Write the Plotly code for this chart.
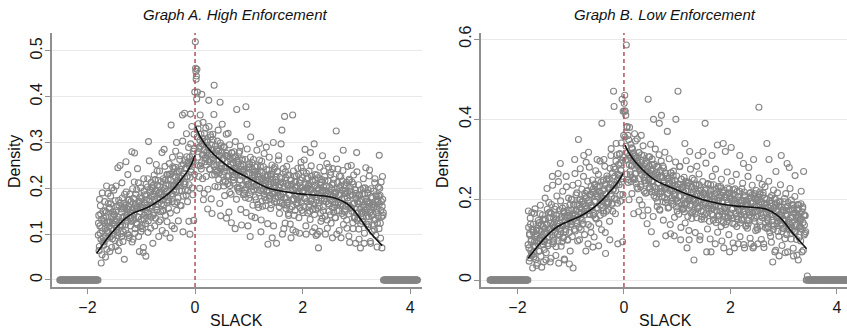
import numpy as np
import plotly.graph_objects as go

# ---------------- data (density per bin, in thousandths) ----------------
BIN = 0.01
# Graph A, bins centred on odd half-hundredths
A_LEFT_START = -1.795
A_LEFT_Y = [
    124, 64, 176, 102, 144, 37, 114, 190, 84, 92,
    76, 129, 151, 50, 138, 205, 108, 91, 167, 125,
    155, 62, 127, 166, 112, 201, 90, 138, 99, 144,
    121, 173, 73, 151, 132, 104, 245, 64, 163, 119,
    250, 120, 155, 95, 179, 136, 105, 167, 45, 159,
    120, 258, 136, 156, 101, 174, 161, 92, 187, 148,
    135, 128, 280, 153, 89, 178, 143, 277, 112, 162,
    155, 197, 121, 138, 212, 168, 62, 181, 159, 106,
    164, 119, 158, 60, 221, 132, 186, 147, 52, 175,
    159, 203, 104, 302, 144, 172, 191, 113, 213, 161,
    199, 80, 207, 145, 176, 219, 135, 195, 160, 238,
    178, 217, 95, 191, 204, 131, 186, 166, 278, 150,
    202, 152, 285, 183, 218, 102, 193, 230, 168, 175,
    156, 209, 231, 92, 218, 338, 188, 171, 247, 205,
    235, 112, 207, 246, 192, 300, 170, 218, 179, 224,
    211, 263, 163, 241, 222, 194, 360, 105, 253, 209,
    364, 210, 245, 185, 269, 226, 195, 257, 128, 249,
    100, 362, 236, 256, 201, 274, 261, 130, 287, 410,
]
A_LEFT_START2 = -1.80
A_LEFT_Y2 = [
    98, 141, 73, 118, 162, 89, 132, 55, 107, 150,
    135, 83, 171, 112, 96, 148, 67, 126, 189, 104,
    117, 158, 94, 183, 138, 71, 124, 149, 108, 196,
    142, 86, 129, 205, 113, 160, 97, 137, 174, 81,
    127, 168, 101, 148, 212, 119, 84, 156, 139, 187,
    163, 109, 192, 141, 128, 230, 154, 97, 176, 135,
    118, 171, 146, 83, 199, 157, 132, 214, 102, 166,
    187, 124, 159, 243, 137, 95, 172, 149, 116, 201,
    133, 178, 112, 155, 71, 194, 141, 168, 123, 209,
    186, 148, 221, 129, 175, 260, 158, 196, 137, 182,
    162, 203, 141, 187, 229, 118, 194, 171, 252, 153,
    207, 165, 189, 127, 238, 176, 149, 215, 192, 108,
    174, 221, 163, 199, 248, 141, 206, 182, 127, 230,
    219, 172, 254, 193, 146, 231, 205, 118, 268, 187,
    196, 243, 167, 225, 281, 204, 152, 236, 213, 129,
    238, 195, 271, 214, 162, 249, 226, 303, 183, 232,
    214, 262, 197, 243, 319, 226, 171, 255, 289, 208,
    268, 224, 297, 241, 335, 259, 186, 281, 318, 230,
]
A_RIGHT_START = 0.005
A_RIGHT_Y = [
    520, 455, 445, 460, 410, 330, 250, 290, 200, 360,
    292, 242, 405, 273, 308, 175, 283, 320, 258, 265,
    226, 279, 301, 155, 288, 392, 258, 241, 317, 275,
    295, 145, 267, 306, 252, 425, 230, 278, 239, 284,
    251, 303, 203, 281, 262, 234, 388, 140, 293, 249,
    340, 230, 265, 205, 289, 246, 215, 277, 135, 269,
    210, 320, 226, 246, 191, 264, 251, 125, 277, 238,
    225, 218, 280, 243, 112, 268, 233, 372, 202, 252,
    235, 277, 201, 218, 292, 248, 120, 261, 239, 186,
    234, 189, 228, 180, 378, 202, 340, 217, 118, 245,
    209, 253, 95, 312, 194, 222, 241, 163, 263, 211,
    229, 136, 237, 175, 206, 249, 165, 225, 190, 298,
    208, 247, 105, 221, 234, 161, 216, 196, 276, 180,
    212, 162, 290, 193, 228, 78, 203, 240, 178, 185,
    156, 209, 231, 92, 218, 300, 188, 171, 247, 205,
    225, 80, 197, 236, 182, 271, 160, 208, 169, 214,
    181, 327, 100, 211, 192, 164, 357, 124, 223, 179,
    248, 170, 205, 145, 229, 186, 155, 217, 92, 209,
    160, 360, 176, 196, 141, 214, 201, 105, 227, 188,
    175, 168, 230, 193, 102, 218, 183, 245, 152, 202,
    195, 237, 161, 178, 285, 208, 100, 221, 199, 146,
    204, 159, 198, 150, 278, 172, 226, 187, 105, 215,
    169, 297, 114, 230, 154, 182, 201, 100, 223, 70,
    199, 106, 207, 145, 176, 219, 135, 195, 160, 238,
    178, 217, 100, 191, 204, 131, 186, 166, 246, 150,
    192, 142, 235, 173, 208, 92, 183, 220, 158, 165,
    136, 189, 325, 100, 198, 242, 168, 151, 227, 185,
    205, 92, 177, 216, 162, 283, 140, 188, 149, 194,
    161, 213, 113, 191, 172, 144, 220, 82, 203, 159,
    250, 150, 185, 125, 209, 166, 135, 197, 80, 189,
    278, 130, 146, 166, 111, 184, 171, 70, 197, 158,
    145, 138, 200, 163, 80, 188, 153, 245, 122, 172,
    155, 197, 121, 138, 240, 168, 80, 181, 159, 106,
    164, 119, 158, 110, 221, 132, 186, 147, 72, 175,
    139, 183, 272, 200, 124, 152, 171, 70, 226, 141,
]
A_RIGHT_START2 = 0.01
A_RIGHT_Y2 = [
    462, 438, 395, 312, 268, 341, 226, 287, 305, 249,
    318, 256, 297, 221, 344, 273, 189, 302, 267, 331,
    251, 306, 272, 198, 289, 335, 242, 263, 312, 177,
    284, 229, 318, 262, 361, 247, 204, 293, 271, 235,
    286, 238, 327, 219, 272, 167, 299, 253, 244, 278,
    263, 214, 291, 237, 184, 272, 245, 318, 226, 258,
    271, 229, 148, 295, 206, 253, 187, 278, 241, 266,
    256, 211, 268, 229, 302, 244, 176, 261, 237, 198,
    257, 193, 281, 218, 154, 242, 227, 264, 207, 236,
    241, 196, 263, 215, 147, 231, 286, 209, 252, 178,
    247, 186, 268, 203, 139, 256, 229, 214, 197, 235,
    227, 181, 246, 208, 283, 197, 232, 158, 219, 262,
    238, 195, 131, 259, 172, 221, 247, 188, 204, 226,
    218, 174, 241, 196, 123, 227, 209, 268, 183, 231,
    226, 164, 251, 187, 212, 118, 243, 193, 178, 219,
    213, 169, 238, 191, 262, 204, 145, 224, 186, 297,
    221, 167, 188, 243, 112, 204, 179, 236, 156, 211,
    163, 229, 208, 141, 186, 264, 122, 197, 218, 174,
    199, 109, 238, 176, 227, 152, 214, 183, 166, 205,
    244, 181, 136, 212, 158, 201, 257, 169, 223, 192,
    147, 194, 262, 178, 209, 118, 233, 171, 201, 223,
    207, 238, 165, 132, 196, 249, 177, 218, 154, 188,
    191, 143, 219, 206, 97, 174, 229, 157, 198, 168,
    161, 246, 184, 128, 213, 193, 271, 151, 203, 173,
    226, 139, 195, 171, 254, 113, 188, 216, 166, 203,
    181, 229, 124, 199, 158, 243, 211, 148, 191, 169,
    136, 192, 264, 151, 213, 169, 186, 108, 201, 163,
    226, 166, 145, 196, 239, 121, 208, 178, 155, 189,
    205, 131, 179, 248, 163, 96, 217, 186, 158, 194,
    157, 214, 185, 112, 229, 168, 138, 197, 179, 146,
    236, 171, 135, 208, 89, 186, 155, 123, 176, 148,
    128, 188, 221, 159, 102, 201, 147, 177, 138, 169,
    190, 116, 169, 227, 148, 84, 199, 141, 164, 179,
    143, 194, 131, 212, 163, 98, 182, 155, 124, 171,
    203, 112, 167, 185, 91, 214, 138, 161, 176, 147,
]
A_ZERO_BANDS = [(-2.515, -1.805), (3.505, 4.135)]

# Graph B
B_LEFT_START = -1.795
B_LEFT_Y = [
    172, 80, 115, 55, 139, 96, 65, 127, 30, 119,
    70, 166, 86, 106, 51, 124, 111, 42, 137, 98,
    122, 72, 165, 103, 138, 32, 113, 150, 88, 95,
    76, 129, 151, 50, 138, 228, 108, 91, 167, 125,
    155, 45, 127, 166, 112, 258, 90, 138, 99, 144,
    131, 183, 83, 161, 142, 114, 265, 42, 173, 129,
    290, 120, 155, 95, 179, 136, 105, 167, 50, 159,
    120, 258, 136, 156, 101, 174, 161, 40, 187, 148,
    145, 138, 200, 163, 30, 188, 153, 300, 122, 172,
    175, 217, 141, 158, 350, 188, 100, 201, 179, 126,
    194, 149, 188, 140, 310, 162, 216, 177, 72, 205,
    179, 223, 90, 318, 164, 192, 211, 133, 233, 181,
    219, 82, 227, 165, 196, 239, 155, 215, 180, 300,
    208, 247, 85, 221, 234, 161, 216, 196, 390, 180,
    222, 172, 300, 203, 238, 66, 213, 250, 188, 195,
    176, 229, 251, 100, 238, 310, 208, 191, 267, 225,
    470, 432, 237, 276, 222, 340, 200, 248, 90, 254,
    261, 313, 213, 291, 272, 244, 450, 95, 420, 360,
]
B_LEFT_START2 = -1.80
B_LEFT_Y2 = [
    88, 131, 47, 112, 154, 73, 101, 168, 62, 124,
    139, 58, 96, 177, 83, 115, 36, 128, 91, 148,
    72, 143, 104, 186, 59, 121, 97, 162, 134, 45,
    151, 98, 204, 117, 68, 139, 176, 85, 126, 193,
    107, 169, 142, 54, 188, 121, 236, 95, 153, 131,
    176, 118, 61, 152, 209, 134, 97, 245, 163, 112,
    128, 197, 84, 158, 136, 221, 105, 171, 52, 149,
    183, 126, 232, 141, 99, 167, 204, 118, 156, 72,
    139, 201, 174, 108, 236, 152, 187, 126, 265, 163,
    212, 148, 186, 97, 241, 169, 131, 198, 277, 156,
    164, 226, 139, 197, 258, 171, 113, 209, 185, 293,
    221, 172, 246, 138, 199, 281, 163, 214, 118, 187,
    183, 249, 161, 218, 107, 236, 194, 272, 152, 211,
    232, 178, 263, 141, 219, 296, 187, 244, 125, 205,
    197, 248, 166, 227, 283, 118, 214, 171, 259, 192,
    254, 193, 231, 146, 278, 214, 327, 188, 239, 171,
    226, 281, 203, 258, 165, 296, 237, 312, 191, 264,
    288, 237, 315, 196, 274, 341, 252, 298, 213, 305,
]
B_RIGHT_START = 0.005
B_RIGHT_Y = [
    440, 460, 420, 410, 585, 380, 300, 360, 250, 200,
    380, 270, 305, 245, 329, 286, 255, 317, 165, 309,
    250, 346, 266, 286, 231, 304, 291, 170, 317, 278,
    282, 232, 360, 263, 298, 160, 273, 310, 248, 255,
    216, 269, 291, 140, 278, 450, 248, 231, 307, 265,
    275, 120, 247, 286, 232, 400, 210, 258, 219, 264,
    90, 283, 183, 261, 242, 214, 390, 174, 273, 229,
    410, 220, 255, 195, 279, 236, 205, 267, 110, 259,
    200, 370, 216, 236, 181, 254, 241, 115, 267, 228,
    205, 198, 260, 223, 110, 248, 213, 400, 182, 232,
    225, 470, 191, 208, 282, 238, 100, 251, 229, 176,
    224, 179, 218, 170, 340, 192, 246, 207, 80, 235,
    199, 243, 100, 320, 184, 212, 231, 153, 253, 201,
    219, 50, 227, 165, 196, 239, 155, 215, 180, 310,
    198, 237, 100, 211, 224, 151, 206, 186, 320, 170,
    212, 162, 390, 193, 228, 70, 203, 240, 178, 185,
    146, 199, 221, 70, 208, 310, 178, 161, 237, 195,
    215, 90, 187, 226, 172, 336, 150, 198, 159, 204,
    181, 233, 133, 211, 192, 164, 340, 80, 223, 179,
    320, 170, 205, 145, 229, 186, 155, 217, 70, 209,
    160, 330, 176, 196, 141, 214, 201, 80, 227, 188,
    165, 158, 220, 183, 90, 208, 173, 310, 142, 192,
    185, 227, 151, 168, 290, 198, 80, 211, 189, 136,
    194, 149, 188, 140, 280, 162, 216, 177, 90, 205,
    169, 213, 80, 300, 154, 182, 201, 123, 223, 171,
    199, 90, 207, 430, 176, 219, 135, 195, 160, 238,
    178, 217, 90, 191, 204, 131, 186, 166, 340, 150,
    182, 132, 300, 163, 198, 109, 173, 210, 148, 45,
    126, 179, 201, 70, 188, 270, 158, 141, 217, 175,
    185, 60, 157, 196, 142, 310, 120, 168, 129, 174,
    151, 203, 103, 181, 162, 134, 290, 70, 193, 149,
    280, 140, 175, 115, 199, 156, 125, 187, 60, 179,
    120, 260, 136, 156, 101, 174, 161, 50, 187, 148,
    135, 128, 190, 153, 70, 178, 143, 270, 112, 162,
    160, 120, 0, 0, 10,
]
B_RIGHT_START2 = 0.01
B_RIGHT_Y2 = [
    421, 356, 298, 333, 264, 382, 317, 243, 349, 287,
    311, 262, 338, 284, 215, 327, 296, 251, 302, 364,
    264, 309, 241, 296, 351, 227, 285, 318, 199, 273,
    293, 238, 312, 187, 279, 334, 256, 221, 289, 247,
    241, 296, 218, 269, 174, 307, 252, 283, 227, 338,
    272, 219, 301, 246, 158, 263, 288, 231, 326, 204,
    228, 267, 194, 281, 241, 312, 176, 257, 219, 296,
    259, 207, 284, 149, 242, 226, 318, 193, 265, 231,
    214, 253, 179, 241, 302, 223, 138, 267, 196, 248,
    242, 188, 271, 213, 156, 236, 294, 201, 259, 172,
    197, 238, 164, 226, 283, 209, 131, 251, 187, 232,
    231, 176, 256, 203, 142, 222, 297, 189, 241, 158,
    241, 123, 204, 188, 276, 167, 219, 232, 169, 197,
    173, 249, 201, 118, 236, 191, 283, 214, 178, 222,
    264, 183, 109, 229, 172, 206, 158, 245, 191, 217,
    152, 223, 189, 291, 167, 206, 127, 238, 176, 214,
    211, 102, 237, 178, 164, 258, 186, 149, 223, 201,
    183, 276, 143, 218, 198, 119, 233, 161, 209, 172,
    229, 171, 251, 97, 196, 217, 143, 206, 181, 159,
    138, 212, 178, 269, 156, 193, 113, 227, 204, 167,
    201, 246, 154, 176, 92, 224, 191, 139, 212, 168,
    263, 133, 188, 207, 151, 173, 221, 108, 199, 162,
    149, 197, 241, 171, 88, 219, 163, 208, 134, 187,
    184, 129, 258, 203, 148, 169, 104, 218, 196, 158,
    236, 167, 193, 84, 215, 146, 204, 159, 183, 131,
    126, 199, 181, 254, 145, 214, 166, 101, 193, 155,
    211, 163, 81, 189, 232, 142, 178, 201, 128, 156,
    147, 246, 173, 118, 205, 184, 94, 191, 158, 137,
    224, 134, 181, 203, 74, 171, 192, 154, 121, 147,
    109, 194, 164, 237, 138, 182, 86, 173, 149, 128,
    195, 146, 68, 215, 173, 113, 163, 184, 139, 126,
    131, 228, 157, 102, 187, 142, 175, 79, 166, 121,
    208, 119, 166, 139, 62, 188, 156, 177, 106, 132,
    152, 97, 221, 170, 126, 182, 74, 161, 137, 116,
]
B_ZERO_BANDS = [(-2.515, -1.805), (3.455, 4.195)]

# fitted local-polynomial curves (each side of the cutoff)
A_FIT_LEFT_X = [-1.83, -1.65, -1.45, -1.3, -1.15, -1.0, -0.84, -0.65, -0.5, -0.4, -0.28, -0.15, -0.07, 0.0]
A_FIT_LEFT_Y = [0.058, 0.088, 0.116, 0.134, 0.146, 0.153, 0.161, 0.175, 0.188, 0.199, 0.216, 0.236, 0.252, 0.272]
A_FIT_RIGHT_X = [0.01, 0.1, 0.22, 0.46, 0.71, 1.0, 1.33, 1.65, 1.95, 2.25, 2.57, 2.82, 2.95, 3.07, 3.26, 3.48]
A_FIT_RIGHT_Y = [0.335, 0.312, 0.291, 0.262, 0.240, 0.222, 0.202, 0.193, 0.188, 0.185, 0.180, 0.167, 0.153, 0.134, 0.103, 0.075]
B_FIT_LEFT_X = [-1.80, -1.6, -1.45, -1.3, -1.15, -1.0, -0.85, -0.7, -0.55, -0.4, -0.25, -0.12, -0.01]
B_FIT_LEFT_Y = [0.054, 0.088, 0.11, 0.128, 0.14, 0.149, 0.157, 0.168, 0.182, 0.2, 0.222, 0.243, 0.266]
B_FIT_RIGHT_X = [0.02, 0.1, 0.24, 0.55, 0.85, 1.18, 1.5, 1.8, 2.12, 2.43, 2.68, 2.87, 3.0, 3.15, 3.3, 3.43]
B_FIT_RIGHT_Y = [0.336, 0.315, 0.29, 0.252, 0.232, 0.214, 0.199, 0.19, 0.184, 0.181, 0.176, 0.162, 0.146, 0.12, 0.097, 0.078]

X_TICKS = [-2, 0, 2, 4]
X_TICK_TEXT = ["\u22122", "0", "2", "4"]
A_Y_TICKS = [0, 0.1, 0.2, 0.3, 0.4, 0.5]
A_Y_TICK_TEXT = ["0", "0.1", "0.2", "0.3", "0.4", "0.5"]
B_Y_TICKS = [0, 0.2, 0.4, 0.6]
B_Y_TICK_TEXT = ["0", "0.2", "0.4", "0.6"]
TITLES = ["Graph A. High Enforcement", "Graph B. Low Enforcement"]
X_TITLE = "SLACK"
Y_TITLE = "Density"

# ---------------- build ----------------
W, H = 847, 330
FONT = "Liberation Sans, Arial, Helvetica, sans-serif"
PT_COLOR = "#858585"
AXIS_COLOR = "#8f8f8f"
GRID_COLOR = "#e9e9e9"
CUT_COLOR = "#b4505c"


def bin_x(start, n):
    return np.round(start + BIN * np.arange(n), 4)


def band_x(lo, hi):
    n = int(round((hi - lo) / BIN)) + 1
    return bin_x(lo, n)


def panel_points(series, bands):
    xs, ys = [], []
    for start, vals in series:
        xs.append(bin_x(start, len(vals)))
        ys.append(np.array(vals) / 1000.0)
    for lo, hi in bands:
        bx = band_x(lo, hi)
        xs.append(bx)
        ys.append(np.zeros(len(bx)))
    return np.concatenate(xs), np.concatenate(ys)


fig = go.Figure()

panels = [
    dict(px=(52, 422), xr=[-2.66, 4.22], yr=[-0.0153, 0.539], yt=A_Y_TICKS, ytt=A_Y_TICK_TEXT,
         pts=panel_points([(A_LEFT_START, A_LEFT_Y), (A_LEFT_START2, A_LEFT_Y2),
                           (A_RIGHT_START, A_RIGHT_Y), (A_RIGHT_START2, A_RIGHT_Y2)], A_ZERO_BANDS),
         fits=[(A_FIT_LEFT_X, A_FIT_LEFT_Y), (A_FIT_RIGHT_X, A_FIT_RIGHT_Y)],
         title_x=235, xtitle_x=236, ytitle_x=14),
    dict(px=(481, 847), xr=[-2.685, 4.19], yr=[-0.0174, 0.615], yt=B_Y_TICKS, ytt=B_Y_TICK_TEXT,
         pts=panel_points([(B_LEFT_START, B_LEFT_Y), (B_LEFT_START2, B_LEFT_Y2),
                           (B_RIGHT_START, B_RIGHT_Y), (B_RIGHT_START2, B_RIGHT_Y2)], B_ZERO_BANDS),
         fits=[(B_FIT_LEFT_X, B_FIT_LEFT_Y), (B_FIT_RIGHT_X, B_FIT_RIGHT_Y)],
         title_x=665, xtitle_x=665, ytitle_x=442),
]

y_dom = [(H - 287) / H, (H - 33) / H]
annotations = []
shapes = []
for i, p in enumerate(panels):
    k = "" if i == 0 else str(i + 1)
    xa, ya = "x" + k, "y" + k
    x, y = p["pts"]
    fig.add_trace(go.Scatter(
        x=x, y=y, mode="markers", xaxis=xa, yaxis=ya, showlegend=False,
        marker=dict(symbol="circle-open", size=6, color=PT_COLOR, line=dict(width=1.1, color=PT_COLOR)),
        hoverinfo="skip"))
    for fx, fy in p["fits"]:
        fig.add_trace(go.Scatter(
            x=fx, y=fy, mode="lines", xaxis=xa, yaxis=ya, showlegend=False,
            line=dict(color="#111111", width=1.6, shape="spline", smoothing=0.8),
            hoverinfo="skip"))
    axis_common = dict(
        showline=True, linecolor=AXIS_COLOR, linewidth=1.5, ticks="outside", ticklen=5,
        tickcolor=AXIS_COLOR, tickwidth=1.2, zeroline=False,
        tickfont=dict(family=FONT, size=16, color="#1a1a1a"), automargin=False)
    fig.update_layout(**{
        "xaxis" + k: dict(domain=[p["px"][0] / W, p["px"][1] / W], range=p["xr"],
                          tickvals=X_TICKS, ticktext=X_TICK_TEXT, showgrid=False,
                          anchor=ya, **axis_common),
        "yaxis" + k: dict(domain=y_dom, range=p["yr"], tickvals=p["yt"], ticktext=p["ytt"],
                          tickangle=-90, showgrid=True, gridcolor=GRID_COLOR, gridwidth=1,
                          ticklabelstandoff=-3, anchor=xa, **axis_common),
    })
    shapes.append(dict(type="line", xref=xa, yref=ya + " domain", x0=0, x1=0, y0=0, y1=1,
                       line=dict(color=CUT_COLOR, width=1.5, dash="4px,3px"), layer="above"))
    annotations.append(dict(text="<i>" + TITLES[i] + "</i>", xref="paper", yref="paper",
                            x=p["title_x"] / W, y=(H - 15) / H, xanchor="center", yanchor="middle",
                            showarrow=False, font=dict(family=FONT, size=15, color="#111111")))
    annotations.append(dict(text=X_TITLE, xref="paper", yref="paper",
                            x=p["xtitle_x"] / W, y=(H - 320) / H, xanchor="center", yanchor="middle",
                            showarrow=False, font=dict(family=FONT, size=16, color="#111111")))
    annotations.append(dict(text=Y_TITLE, xref="paper", yref="paper", textangle=-90,
                            x=p["ytitle_x"] / W, y=(H - 162) / H, xanchor="center", yanchor="middle",
                            showarrow=False, font=dict(family=FONT, size=16, color="#111111")))

fig.update_layout(
    width=W, height=H, margin=dict(l=0, r=0, t=0, b=0),
    paper_bgcolor="white", plot_bgcolor="white",
    annotations=annotations, shapes=shapes, showlegend=False,
)

fig.write_html("out.html")
